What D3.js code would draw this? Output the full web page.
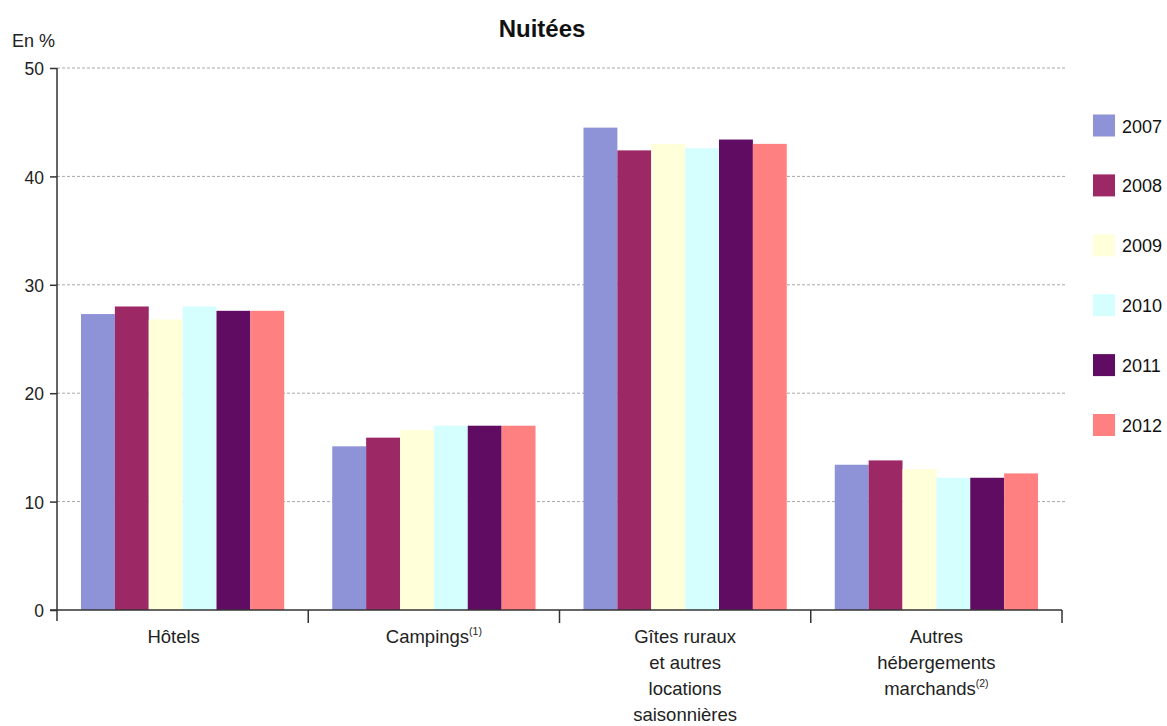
<!DOCTYPE html>
<html><head><meta charset="utf-8">
<script src="https://cdn.jsdelivr.net/npm/d3@7"></script>
<style>body{margin:0;background:#fff}svg{display:block;font-family:"Liberation Sans",Arial,sans-serif}</style>
</head><body>
<svg id="c" width="1167" height="726"></svg>
<script>
const categories = ["Hôtels", "Campings", "Gîtes ruraux et autres locations saisonnières", "Autres hébergements marchands"];
const categoryLines = [["Hôtels"], ["Campings|(1)"], ["Gîtes ruraux", "et autres", "locations", "saisonnières"], ["Autres", "hébergements", "marchands|(2)"]];
const years = ["2007", "2008", "2009", "2010", "2011", "2012"];
const v2007 = [27.3, 15.1, 44.5, 13.4];
const v2008 = [28.0, 15.9, 42.4, 13.8];
const v2009 = [26.8, 16.6, 43.0, 13.0];
const v2010 = [28.0, 17.0, 42.6, 12.2];
const v2011 = [27.6, 17.0, 43.4, 12.2];
const v2012 = [27.6, 17.0, 43.0, 12.6];
const yTicks = [0, 10, 20, 30, 40, 50];
const colors = ["#8E92D6", "#9C2866", "#FFFFDA", "#D5FFFF", "#600C62", "#FF8080"];
const series = [v2007, v2008, v2009, v2010, v2011, v2012];

const svg = d3.select("#c");
const x0 = d3.scaleBand().domain(categories).range([57, 1062]).paddingInner(0).paddingOuter(0);
const bw = x0.bandwidth();
const x1 = d3.scaleBand().domain(years).range([24, bw - 24]).padding(0);
const y = d3.scaleLinear().domain([0, 50]).range([610, 68]);
const color = d3.scaleOrdinal().domain(years).range(colors);

// gridlines
svg.append("g").selectAll("line").data(yTicks.filter(d => d > 0)).join("line")
  .attr("x1", 57).attr("x2", 1066).attr("y1", d => y(d)).attr("y2", d => y(d))
  .attr("stroke", "#a8a8a8").attr("stroke-width", 1).attr("stroke-dasharray", "3,2");

// bars
const g = svg.append("g");
categories.forEach((c, i) => {
  g.selectAll(null).data(years.map((yr, j) => ({yr, v: series[j][i]}))).join("rect")
    .attr("x", d => x0(c) + x1(d.yr)).attr("width", x1.bandwidth())
    .attr("y", d => y(d.v)).attr("height", d => y(0) - y(d.v))
    .attr("fill", d => color(d.yr));
});

// y axis
const yAxis = d3.axisLeft(y).tickValues(yTicks).tickSize(7).tickPadding(6).tickFormat(d3.format("d"));
const ya = svg.append("g").attr("transform", "translate(57,0)").call(yAxis);
ya.select(".domain").remove();
ya.selectAll(".tick line").attr("stroke", "#333").attr("stroke-width", 1.5);
ya.selectAll("text").attr("font-size", 17.5).attr("fill", "#222").attr("dy", "0.38em").attr("font-family", "Liberation Sans, Arial, sans-serif");
svg.append("line").attr("x1", 57).attr("x2", 57).attr("y1", y(50)).attr("y2", 621).attr("stroke", "#333").attr("stroke-width", 1.5);

// x axis
svg.append("line").attr("x1", 50).attr("x2", 1062).attr("y1", y(0)).attr("y2", y(0)).attr("stroke", "#333").attr("stroke-width", 1.5);
svg.append("g").selectAll("line").data(categories).join("line")
  .attr("x1", d => x0(d) + bw).attr("x2", d => x0(d) + bw)
  .attr("y1", y(0)).attr("y2", y(0) + 13).attr("stroke", "#333").attr("stroke-width", 1.5);

// x labels
categories.forEach((c, i) => {
  const cx = x0(c) + bw / 2 + (i === 0 ? -9 : 0);
  categoryLines[i].forEach((ln, k) => {
    const parts = ln.split("|");
    const t = svg.append("text").attr("x", cx).attr("y", 643 + k * 26)
      .attr("text-anchor", "middle").attr("font-size", 18.5).attr("fill", "#222");
    t.append("tspan").text(parts[0]);
    if (parts[1]) t.append("tspan").attr("font-size", 10.5).attr("dy", -8).text(parts[1]);
  });
});

// title
svg.append("text").attr("x", 542).attr("y", 37).attr("text-anchor", "middle")
  .attr("font-size", 24).attr("font-weight", "bold").attr("fill", "#111").text("Nuitées");
svg.append("text").attr("x", 12).attr("y", 47).attr("font-size", 18).attr("fill", "#222").text("En %");

// legend
const lg = svg.append("g").selectAll("g").data(years).join("g")
  .attr("transform", (d, i) => `translate(1093,${125.5 + i * 59.9})`);
lg.append("rect").attr("x", 0).attr("y", -11).attr("width", 22).attr("height", 22).attr("fill", d => color(d));
lg.append("text").attr("x", 29).attr("y", 7).attr("font-size", 18).attr("fill", "#111").text(d => d);
</script>
</body></html>
